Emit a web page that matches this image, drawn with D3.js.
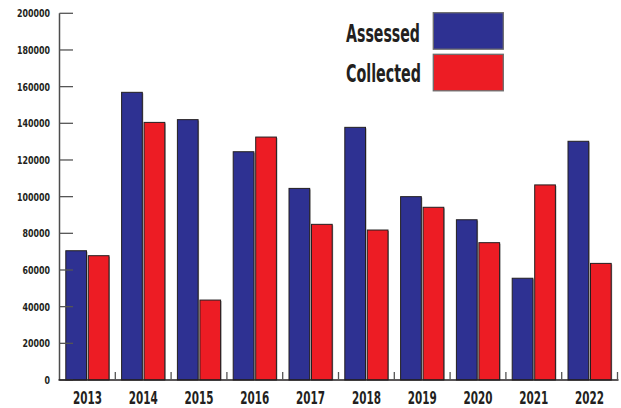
<!DOCTYPE html>
<html><head><meta charset="utf-8">
<script src="https://cdn.jsdelivr.net/npm/d3@7"></script>
<style>body{margin:0;background:#fff}svg{display:block}</style>
</head><body>
<svg id="c" width="621" height="408"></svg>
<script>
const years = ["2013","2014","2015","2016","2017","2018","2019","2020","2021","2022"];
const assessed = [70500,156900,142000,124500,104500,137800,100000,87400,55500,130200];
const collected = [67800,140500,43600,132500,84900,81800,94200,74900,106400,63600];
const yTicks = [0,20000,40000,60000,80000,100000,120000,140000,160000,180000,200000];
const seriesNames = ["Assessed","Collected"];
const colors = ["#2e3192","#ed1c24"];

const svg = d3.select("#c");
const font = "'Liberation Sans Narrow','DejaVu Sans Condensed','Arial Narrow',sans-serif";
const ink = "#231f20";
const x0 = 59.5, x1 = 617.5, yTop = 13.3, yBase = 380;

const x = d3.scaleBand().domain(years).range([x0, x1]).paddingInner(0).paddingOuter(0);
const xs = d3.scaleBand().domain(seriesNames).range([0, x.bandwidth()]).paddingInner(0.08).paddingOuter(0.28);
const y = d3.scaleLinear().domain([0,200000]).range([yBase, yTop]);

// bars
const data = years.map((yr,i)=>({yr, vals:[assessed[i], collected[i]]}));
const g = svg.append("g");
data.forEach(d=>{
  d.vals.forEach((v,k)=>{
    const bx = x(d.yr)+xs(seriesNames[k]);
    g.append("rect").attr("x",bx+1).attr("y",y(v)+1).attr("width",xs.bandwidth()).attr("height",yBase-y(v)-1)
      .attr("fill","#9a9a9a");
    g.append("rect").attr("x",bx).attr("y",y(v)).attr("width",xs.bandwidth()).attr("height",yBase-y(v))
      .attr("fill",colors[k]).attr("stroke",ink).attr("stroke-width",1);
  });
});

// y axis
const yAxis = svg.append("g");
yAxis.append("line").attr("x1",x0).attr("x2",x0).attr("y1",yTop).attr("y2",yBase).attr("stroke","#4d4d4d").attr("stroke-width",1.5);
yTicks.forEach(t=>{
  yAxis.append("line").attr("x1",x0).attr("x2",73).attr("y1",y(t)).attr("y2",y(t)).attr("stroke","#555").attr("stroke-width",1.3);
  const s = String(t);
  yAxis.append("text").attr("x",50).attr("y",y(t)+4).attr("text-anchor","end")
    .attr("font-family",font).attr("font-weight","bold").attr("font-size",11).attr("fill",ink)
    .attr("textLength",s.length*5.5).attr("lengthAdjust","spacingAndGlyphs").text(s);
});

// x axis
const xAxis = svg.append("g");
xAxis.append("line").attr("x1",x0-1).attr("x2",x1+1).attr("y1",yBase).attr("y2",yBase).attr("stroke",ink).attr("stroke-width",1.5);
years.forEach((yr,i)=>{
  const bx = x(yr)+x.bandwidth();
  xAxis.append("line").attr("x1",bx).attr("x2",bx).attr("y1",yBase).attr("y2",yBase-8).attr("stroke","#555").attr("stroke-width",1.3);
  xAxis.append("text").attr("x",x(yr)+x.bandwidth()/2).attr("y",403.6).attr("text-anchor","middle")
    .attr("font-family",font).attr("font-weight","bold").attr("font-size",18.5).attr("fill",ink)
    .attr("textLength",29).attr("lengthAdjust","spacingAndGlyphs").text(yr);
});

// legend
const leg = svg.append("g");
const legY = [12.7, 54.3];
const legBase = [41.7, 81.7];
const legLen = [74, 75];
seriesNames.forEach((n,k)=>{
  leg.append("rect").attr("x",433.3).attr("y",legY[k]).attr("width",70).attr("height",36.5)
    .attr("fill",colors[k]).attr("stroke","#6d6d6d").attr("stroke-width",1.3);
  leg.append("text").attr("x",346).attr("y",legBase[k])
    .attr("font-family",font).attr("font-weight","bold").attr("font-size",24).attr("fill",ink)
    .attr("textLength",legLen[k]).attr("lengthAdjust","spacingAndGlyphs").text(n);
});
</script>
</body></html>
